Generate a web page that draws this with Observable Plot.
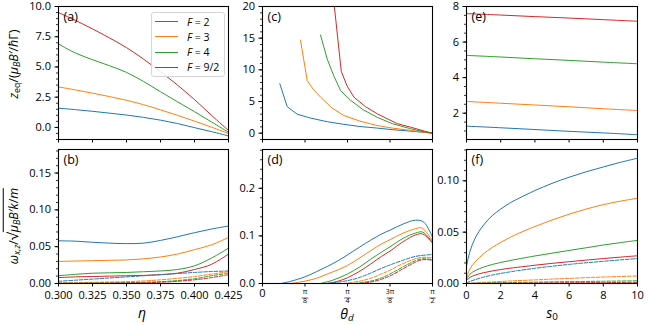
<!DOCTYPE html>
<html><head><meta charset="utf-8">
<script src="https://cdn.jsdelivr.net/npm/d3@7"></script>
<script src="https://cdn.jsdelivr.net/npm/@observablehq/plot@0.6"></script>
<style>
body{margin:0;background:#fff;}
#wrap{position:relative;width:650px;height:325px;font-family:"Open Sans",sans-serif;overflow:hidden;background:#fff}
#wrap svg{position:absolute;overflow:visible}
.ylab{position:absolute;white-space:nowrap;transform:translate(-50%,-50%) rotate(-90deg);font-size:12.5px;line-height:1}
.ylab sub{font-size:0.7em;vertical-align:-0.3em;line-height:0}
.xlab{position:absolute;white-space:nowrap;transform:translate(-50%,-50%);font-size:14px;font-style:italic;line-height:1}
.xlab sub{font-size:0.7em;vertical-align:-0.25em;line-height:0}
#legend{position:absolute;left:151px;top:12px;width:74px;height:65px;border:1px solid #d6d6d6;border-radius:3px;background:rgba(255,255,255,0.85);box-sizing:border-box}
.lrow{position:absolute;left:0;height:0}
.lline{position:absolute;left:3px;width:23px;top:-0.5px;height:0;border-top:1.2px solid}
.ltxt{position:absolute;left:35px;top:-7px;font-size:10.5px;line-height:14px;white-space:nowrap}
.sq{font-size:1.15em}
</style></head>
<body><div id="wrap"></div>
<script>
const F_LABELS = ["2", "3", "4", "9/2"];
const COLORS = ["#1f77b4", "#ff7f0e", "#2ca02c", "#d62728"];

// ---------- panel (a): z_eq vs eta ----------
const etaGrid = [0.300, 0.3125, 0.325, 0.3375, 0.350, 0.3625, 0.375, 0.3875, 0.400, 0.4125, 0.425];
const a_F2 = [1.59, 1.47, 1.33, 1.18, 1.02, 0.83, 0.60, 0.32, -0.02, -0.35, -0.70];
const a_F3 = [3.35, 3.10, 2.83, 2.55, 2.24, 1.88, 1.45, 1.00, 0.52, 0.02, -0.50];
const a_F4 = [6.90, 6.15, 5.60, 5.10, 4.55, 3.80, 2.95, 2.12, 1.30, 0.45, -0.40];
const a_F92 = [9.50, 8.85, 8.15, 7.40, 6.60, 5.65, 4.60, 3.50, 2.30, 1.00, -0.25];

// ---------- panel (b): omega vs eta (solid / dashed) ----------
const b_F2 = [0.058, 0.0575, 0.0560, 0.0548, 0.0542, 0.0548, 0.0585, 0.0635, 0.069, 0.074, 0.078];
const b_F3 = [0.030, 0.0305, 0.031, 0.0315, 0.032, 0.0335, 0.036, 0.040, 0.046, 0.0525, 0.0625];
const b_F4 = [0.0105, 0.0125, 0.014, 0.0145, 0.015, 0.016, 0.017, 0.019, 0.024, 0.0345, 0.048];
const b_F92 = [0.008, 0.009, 0.0095, 0.010, 0.0105, 0.011, 0.012, 0.014, 0.019, 0.026, 0.040];
const b_F2d = [0.003, 0.0045, 0.006, 0.0075, 0.009, 0.0105, 0.012, 0.0135, 0.015, 0.0163, 0.017];
const b_F3d = [0.0008, 0.001, 0.0015, 0.002, 0.0025, 0.0035, 0.005, 0.007, 0.0095, 0.0127, 0.016];
const b_F4d = [0.0003, 0.0004, 0.0006, 0.0008, 0.0011, 0.0016, 0.0025, 0.004, 0.0065, 0.0105, 0.014];
const b_F92d = [0.0002, 0.0003, 0.0004, 0.0005, 0.0007, 0.001, 0.0017, 0.003, 0.005, 0.008, 0.012];

// ---------- panel (c): z_eq vs theta_d ----------
const c_F2_t = [0.160, 0.228, 0.32, 0.44, 0.60, 0.75, 0.90, 1.06, 1.20, 1.37, 1.50, 1.5708];
const c_F2 = [7.8, 4.2, 3.0, 2.4, 1.8, 1.4, 1.05, 0.8, 0.55, 0.32, 0.12, 0];
const c_F3_t = [0.351, 0.413, 0.47, 0.536, 0.64, 0.75, 0.90, 1.06, 1.20, 1.37, 1.50, 1.5708];
const c_F3 = [14.7, 8.3, 6.9, 5.7, 4.0, 2.8, 1.9, 1.2, 0.8, 0.43, 0.12, 0];
const c_F4_t = [0.536, 0.598, 0.66, 0.722, 0.813, 0.93, 1.06, 1.20, 1.368, 1.50, 1.5708];
const c_F4 = [15.5, 11.7, 9.0, 6.7, 5.2, 3.7, 2.5, 1.5, 0.7, 0.2, 0];
const c_F92_t = [0.664, 0.728, 0.78, 0.844, 0.95, 1.06, 1.245, 1.368, 1.50, 1.5708];
const c_F92 = [20.0, 9.75, 7.5, 5.7, 4.2, 3.06, 1.5, 0.95, 0.3, 0];

// ---------- panel (d): omega vs theta_d ----------
const d_F2_t = [0.166, 0.25, 0.393, 0.5, 0.6, 0.7, 0.785, 0.9, 1.0, 1.1, 1.178, 1.3, 1.414, 1.49, 1.5708];
const d_F2 = [0, 0.004, 0.014, 0.025, 0.036, 0.048, 0.060, 0.077, 0.091, 0.104, 0.112, 0.125, 0.133, 0.129, 0.097];
const d_F3_t = [0.26, 0.393, 0.5, 0.6, 0.7, 0.785, 0.9, 1.0, 1.1, 1.178, 1.3, 1.414, 1.47, 1.5708];
const d_F3 = [0, 0.005, 0.011, 0.020, 0.029, 0.038, 0.054, 0.069, 0.083, 0.092, 0.106, 0.115, 0.117, 0.090];
const d_F4_t = [0.536, 0.65, 0.785, 0.9, 1.0, 1.1, 1.178, 1.3, 1.414, 1.48, 1.5708];
const d_F4 = [0, 0.007, 0.020, 0.035, 0.051, 0.066, 0.077, 0.095, 0.106, 0.108, 0.086];
const d_F92_t = [0.6, 0.7, 0.785, 0.9, 1.0, 1.1, 1.178, 1.3, 1.414, 1.48, 1.5708];
const d_F92 = [0, 0.005, 0.012, 0.026, 0.041, 0.057, 0.068, 0.088, 0.102, 0.104, 0.085];
const d_F2d_t = [0.6, 0.785, 0.9, 1.0, 1.1, 1.178, 1.3, 1.414, 1.5708];
const d_F2d = [0, 0.006, 0.013, 0.022, 0.032, 0.039, 0.049, 0.057, 0.061];
const d_F3d_t = [0.75, 0.9, 1.0, 1.1, 1.178, 1.3, 1.414, 1.48, 1.5708];
const d_F3d = [0, 0.005, 0.011, 0.020, 0.028, 0.042, 0.052, 0.055, 0.054];
const d_F4d_t = [0.85, 1.0, 1.1, 1.178, 1.3, 1.414, 1.48, 1.5708];
const d_F4d = [0, 0.005, 0.012, 0.020, 0.035, 0.048, 0.052, 0.050];
const d_F92d_t = [0.9, 1.0, 1.1, 1.178, 1.3, 1.414, 1.48, 1.5708];
const d_F92d = [0, 0.003, 0.009, 0.016, 0.031, 0.045, 0.050, 0.049];

// ---------- panel (e): z_eq vs s0 ----------
const eGrid = [0, 2, 4, 6, 8, 10];
const e_F2 = [1.27, 1.18, 1.08, 0.98, 0.89, 0.79];
const e_F3 = [2.66, 2.56, 2.46, 2.36, 2.25, 2.15];
const e_F4 = [5.25, 5.16, 5.06, 4.97, 4.87, 4.78];
const e_F92 = [7.60, 7.52, 7.43, 7.35, 7.26, 7.17];

// ---------- panel (f): omega vs s0 ----------
const fGrid = [0, 0.2, 0.5, 1, 1.5, 2, 2.5, 3, 4, 5, 6, 7, 8, 9, 10];
const f_F2 = [0.017, 0.031, 0.044, 0.057, 0.066, 0.0725, 0.078, 0.0825, 0.0905, 0.0975, 0.1035, 0.1088, 0.1135, 0.118, 0.122];
const f_F3 = [0.006, 0.014, 0.021, 0.029, 0.035, 0.040, 0.0445, 0.0485, 0.0555, 0.0618, 0.0675, 0.0725, 0.0768, 0.0802, 0.083];
const f_F4 = [0.004, 0.009, 0.0125, 0.016, 0.0185, 0.0205, 0.0222, 0.0238, 0.0268, 0.0295, 0.0322, 0.0348, 0.0375, 0.0398, 0.042];
const f_F92 = [0.003, 0.0058, 0.0082, 0.0105, 0.0122, 0.0136, 0.0148, 0.0158, 0.0178, 0.0196, 0.0212, 0.0228, 0.0243, 0.0257, 0.027];
const f_F2d = [0.0005, 0.002, 0.0037, 0.0062, 0.0082, 0.0098, 0.0112, 0.0125, 0.0148, 0.0168, 0.0186, 0.0202, 0.0216, 0.023, 0.0243];
const f_F3d = [0, 0.0002, 0.0005, 0.001, 0.0015, 0.002, 0.0024, 0.0028, 0.0035, 0.0043, 0.005, 0.0057, 0.0063, 0.0068, 0.0073];
const f_F4d = [0, 0.0001, 0.0002, 0.0004, 0.0006, 0.0008, 0.0009, 0.0011, 0.0013, 0.0016, 0.0018, 0.002, 0.0022, 0.0024, 0.0026];
const f_F92d = [0, 0, 0.0001, 0.0002, 0.0002, 0.0003, 0.0003, 0.0004, 0.0005, 0.0006, 0.0007, 0.0008, 0.0009, 0.001, 0.0011];

// ---------- ticks ----------
const etaTicks = [0.300, 0.325, 0.350, 0.375, 0.400, 0.425];
const thetaTicks = [0, Math.PI / 8, Math.PI / 4, 3 * Math.PI / 8, Math.PI / 2];
const thetaFrac = [
  {v: Math.PI / 8, num: "π", den: "8"},
  {v: Math.PI / 4, num: "π", den: "4"},
  {v: 3 * Math.PI / 8, num: "3π", den: "8"},
  {v: Math.PI / 2, num: "π", den: "2"}
];
const sTicks = [0, 2, 4, 6, 8, 10];
const aYTicks = [0, 2.5, 5, 7.5, 10];
const bYTicks = [0, 0.05, 0.10, 0.15];
const cYTicks = [0, 5, 10, 15, 20];
const dYTicks = [0, 0.1, 0.2];
const eYTicks = [2, 4, 6, 8];
const fYTicks = [0, 0.05, 0.10];

const wrap = document.getElementById("wrap");
const FONT = '"Open Sans", sans-serif';
const barSymbol = {draw(ctx) { ctx.moveTo(-3.3, 0); ctx.lineTo(3.3, 0); }};

function S(x, y, i, dash) { return {x, y, color: COLORS[i], dash}; }

function panel(o) {
  const mL = 44, mR = 10, mT = 6, mB = 34;
  const marks = [];
  for (const s of o.series) {
    const rows = s.x.map((x, i) => ({x, y: s.y[i]}));
    marks.push(Plot.line(rows, {x: "x", y: "y", stroke: s.color, strokeWidth: 1,
      strokeDasharray: s.dash ? "3.6,1.6" : null, curve: o.curve || "catmull-rom", clip: true}));
  }
  marks.push(Plot.frame({stroke: "black", strokeWidth: 1.1}));
  marks.push(Plot.axisY(o.yMinor, {tickSize: 2, tickFormat: () => "", label: null, strokeWidth: 0.8}));
  marks.push(Plot.axisY(o.yTicks, {tickSize: 3.5, tickPadding: 4, tickFormat: o.yFormat, label: null, fontSize: 11}));
  if (o.frac) {
    marks.push(Plot.axisX(o.xTicks, {tickSize: 3.5, tickFormat: () => "", label: null}));
    if (o.xText) {
      marks.push(Plot.text([0], {x: d => d, text: () => "0", frameAnchor: "bottom", dy: 13, fontSize: 11}));
      marks.push(Plot.text(thetaFrac, {x: "v", text: "num", frameAnchor: "bottom", dy: 10.5, fontSize: 7}));
      marks.push(Plot.text(thetaFrac, {x: "v", text: "den", frameAnchor: "bottom", dy: 19.5, fontSize: 7}));
      marks.push(Plot.dot(thetaFrac, {x: "v", frameAnchor: "bottom", dy: 14.5, symbol: barSymbol, stroke: "black", strokeWidth: 0.6}));
    }
  } else {
    marks.push(Plot.axisX(o.xTicks, {tickSize: 3.5, tickPadding: 4.5, label: null, fontSize: 11,
      tickFormat: o.xText ? o.xFormat : () => ""}));
  }
  marks.push(Plot.text([o.letter], {frameAnchor: "top-left", dx: 5, dy: 10, fontSize: 12.5, textAnchor: "start", lineAnchor: "middle"}));
  const svg = Plot.plot({
    width: o.w + mL + mR, height: o.h + mT + mB,
    marginLeft: mL, marginRight: mR, marginTop: mT, marginBottom: mB,
    x: {domain: o.xDomain}, y: {domain: o.yDomain},
    style: {background: "transparent", fontFamily: FONT, fontSize: "11px", color: "black", overflow: "visible"},
    marks
  });
  svg.style.left = (o.left - mL) + "px";
  svg.style.top = (o.top - mT) + "px";
  wrap.appendChild(svg);
}

const COLX = [58, 262, 466];
const COLW = [170, 170, 171];
const ROWY = [6, 149];
const ROWH = [133, 134];

panel({left: COLX[0], top: ROWY[0], w: COLW[0], h: ROWH[0], letter: "(a)",
  xDomain: [0.3, 0.425], xTicks: etaTicks, xText: false,
  yDomain: [-1, 10], yTicks: aYTicks, yFormat: d3.format(".1f"), yMinor: d3.range(-1, 10.01, 0.5),
  series: [S(etaGrid, a_F2, 0), S(etaGrid, a_F3, 1), S(etaGrid, a_F4, 2), S(etaGrid, a_F92, 3)]});

panel({left: COLX[0], top: ROWY[1], w: COLW[0], h: ROWH[1], letter: "(b)",
  xDomain: [0.3, 0.425], xTicks: etaTicks, xText: true, xFormat: d3.format(".3f"),
  yDomain: [0, 0.182], yTicks: bYTicks, yFormat: d3.format(".2f"), yMinor: d3.range(0, 0.181, 0.01),
  series: [S(etaGrid, b_F2, 0), S(etaGrid, b_F3, 1), S(etaGrid, b_F4, 2), S(etaGrid, b_F92, 3),
    S(etaGrid, b_F2d, 0, true), S(etaGrid, b_F3d, 1, true), S(etaGrid, b_F4d, 2, true), S(etaGrid, b_F92d, 3, true)]});

panel({left: COLX[1], top: ROWY[0], w: COLW[1], h: ROWH[0], letter: "(c)", frac: true,
  xDomain: [0, Math.PI / 2], xTicks: thetaTicks, xText: false, curve: "linear",
  yDomain: [-1, 20], yTicks: cYTicks, yFormat: d3.format("d"), yMinor: d3.range(-1, 20.01, 1),
  series: [S(c_F2_t, c_F2, 0), S(c_F3_t, c_F3, 1), S(c_F4_t, c_F4, 2), S(c_F92_t, c_F92, 3)]});

panel({left: COLX[1], top: ROWY[1], w: COLW[1], h: ROWH[1], letter: "(d)", frac: true,
  xDomain: [0, Math.PI / 2], xTicks: thetaTicks, xText: true,
  yDomain: [0, 0.2815], yTicks: dYTicks, yFormat: d3.format(".1f"), yMinor: d3.range(0, 0.281, 0.02),
  series: [S(d_F2_t, d_F2, 0), S(d_F3_t, d_F3, 1), S(d_F4_t, d_F4, 2), S(d_F92_t, d_F92, 3),
    S(d_F2d_t, d_F2d, 0, true), S(d_F3d_t, d_F3d, 1, true), S(d_F4d_t, d_F4d, 2, true), S(d_F92d_t, d_F92d, 3, true)]});

panel({left: COLX[2], top: ROWY[0], w: COLW[2], h: ROWH[0], letter: "(e)",
  xDomain: [0, 10], xTicks: sTicks, xText: false,
  yDomain: [0.52, 8], yTicks: eYTicks, yFormat: d3.format("d"), yMinor: d3.range(1, 8.01, 0.5),
  series: [S(eGrid, e_F2, 0), S(eGrid, e_F3, 1), S(eGrid, e_F4, 2), S(eGrid, e_F92, 3)]});

panel({left: COLX[2], top: ROWY[1], w: COLW[2], h: ROWH[1], letter: "(f)",
  xDomain: [0, 10], xTicks: sTicks, xText: true, xFormat: d3.format("d"),
  yDomain: [0, 0.1305], yTicks: fYTicks, yFormat: d3.format(".2f"), yMinor: d3.range(0, 0.131, 0.01),
  series: [S(fGrid, f_F2, 0), S(fGrid, f_F3, 1), S(fGrid, f_F4, 2), S(fGrid, f_F92, 3),
    S(fGrid, f_F2d, 0, true), S(fGrid, f_F3d, 1, true), S(fGrid, f_F4d, 2, true), S(fGrid, f_F92d, 3, true)]});

// axis titles
function addDiv(cls, html, x, y) {
  const d = document.createElement("div");
  d.className = cls; d.innerHTML = html;
  d.style.left = x + "px"; d.style.top = y + "px";
  wrap.appendChild(d);
}
addDiv("ylab", '<i>z</i><sub>eq</sub>/(<i>μ<sub>B</sub>B′</i>/<i>ħ</i>Γ)', 14, 64);
addDiv("ylab", '<i>ω<sub>x,z</sub></i>/<span class="sq">√</span><span style="border-top:1px solid black;padding-top:1px"><i>μ<sub>B</sub>B′k</i>/<i>m</i></span>', 13, 226);
addDiv("xlab", 'η', 142, 313);
addDiv("xlab", 'θ<sub>d</sub>', 347, 314);
addDiv("xlab", 's<sub style="font-style:normal">0</sub>', 552, 313);

// legend
const leg = document.createElement("div");
leg.id = "legend";
F_LABELS.forEach((lab, i) => {
  const r = document.createElement("div");
  r.className = "lrow";
  r.style.top = (8.5 + i * 15.3) + "px";
  r.innerHTML = `<div class="lline" style="border-color:${COLORS[i]}"></div><div class="ltxt"><i>F</i> = ${lab}</div>`;
  leg.appendChild(r);
});
wrap.appendChild(leg);
</script></body></html>
